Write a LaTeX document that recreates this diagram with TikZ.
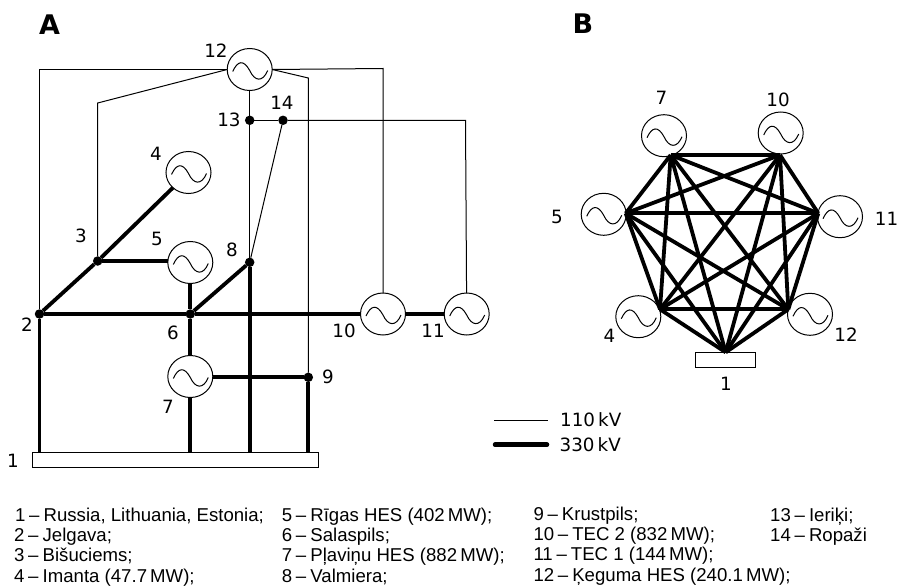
\documentclass[tikz,border=0pt]{standalone}
\usepackage{fontspec}
\setmainfont{Liberation Sans}
\newfontfamily\numfont{DejaVu Sans}
\usetikzlibrary{shapes.geometric}
\newcommand{\dashsep}{\hspace{.2em}–\hspace{.22em}}
\begin{document}
\begin{tikzpicture}[x=1pt,y=-1pt,
gen/.style={ellipse, draw, line width=1pt, minimum width=45pt, minimum height=42pt, inner sep=0pt, outer sep=0pt,
  path picture={\draw[line width=1pt, shift={(path picture bounding box.center)}] (-17,2) .. controls (-12,-9) and (-6,-10) .. (0,1) .. controls (5,12) and (13,13) .. (18,1);}},
dot/.style={circle, fill, minimum size=9.5pt, inner sep=0pt, outer sep=0pt},
busbar/.style={rectangle, draw, line width=1pt, inner sep=0pt, outer sep=0pt},
num/.style={font=\numfont\fontsize{18.3}{18.3}\selectfont, inner sep=0pt},
head/.style={font=\numfont\bfseries\fontsize{27}{27}\selectfont, inner sep=0pt},
key/.style={font=\fontsize{18.6}{18.6}\selectfont, anchor=base west, inner sep=0pt},
lowline/.style={line width=1pt},
highline/.style={line width=3.8pt}]
\useasboundingbox (0,0) rectangle (897,586);
\node[head] (hA) at (49.5,25){A};
\node[head] (hB) at (583,24){B};
\node[busbar, minimum width=286pt, minimum height=14.5pt] (aid1) at (175.3,460){};
\node[dot] (aid2) at (39.5,314){};
\node[dot] (aid3) at (97.7,261){};
\node[gen] (aid4) at (188.5,172.5){};
\node[gen] (aid5) at (190.3,262.5){};
\node[dot] (aid6) at (190.3,314){};
\node[gen] (aid7) at (190.3,376.5){};
\node[dot] (aid8) at (249.7,262.3){};
\node[dot] (aid9) at (308.3,377.3){};
\node[gen] (aid10) at (383,314){};
\node[gen] (aid11) at (466.7,314){};
\node[gen] (aid12) at (249.7,69.5){};
\node[dot] (aid13) at (249.7,120.3){};
\node[dot] (aid14) at (283,120.3){};
\coordinate (acor1) at (39.5,69.5);
\coordinate (acor2) at (97.7,103);
\coordinate (acor3) at (308.3,78);
\coordinate (acor4) at (383,68.5);
\coordinate (acor5) at (465.5,120.3);
\draw[lowline](aid12.west) -- (acor1) -- (aid2);
\draw[lowline](aid12.west) -- (acor2) -- (aid3);
\draw[lowline](aid12.east) -- (acor3) -- (aid9);
\draw[lowline](aid12.east) -- (acor4) -- (aid10);
\draw[lowline](aid12) -- (aid13);
\draw[lowline](aid13) -- (aid8);
\draw[lowline](aid13) -- (aid14);
\draw[lowline](aid14) -- (aid8);
\draw[lowline](aid14) -- (acor5) -- (aid11);
\draw[highline](aid2) -- (aid2 |- aid1.north);
\draw[highline](aid2) -- (aid3);
\draw[highline](aid3) -- (aid4);
\draw[highline](aid3) -- (aid3 -| aid5.west);
\draw[highline](aid5) -- (aid6);
\draw[highline](aid2) -- (aid6);
\draw[highline](aid6) -- (aid8);
\draw[highline](aid6) -- (aid10);
\draw[highline](aid10) -- (aid11);
\draw[highline](aid6) -- (aid7);
\draw[highline](aid7) -- (aid7 |- aid1.north);
\draw[highline](aid9 -| aid7.east) -- (aid9);
\draw[highline](aid8) -- (aid8 |- aid1.north);
\draw[highline](aid9) -- (aid9 |- aid1.north);
\node[num] (alab1) at (13,461){1};
\node[num] (alab2) at (27,325){2};
\node[num] (alab3) at (81,236){3};
\node[num] (alab4) at (156,154){4};
\node[num] (alab5) at (157,239){5};
\node[num] (alab6) at (173,333){6};
\node[num] (alab7) at (168,407){7};
\node[num] (alab8) at (232,250){8};
\node[num] (alab9) at (328,376.5){9};
\node[num] (alab10) at (344,331){10};
\node[num] (alab11) at (433,331){11};
\node[num] (alab12) at (216,51){12};
\node[num] (alab13) at (229,119.5){13};
\node[num] (alab14) at (282,103){14};
\node[busbar, minimum width=60pt, minimum height=15pt] (bid1) at (725.7,359.8){};
\node[gen] (bid4) at (638.3,316.7){};
\node[gen] (bid5) at (603.7,214.3){};
\node[gen] (bid7) at (664,135.7){};
\node[gen] (bid10) at (780.7,133){};
\node[gen] (bid11) at (840,216.7){};
\node[gen] (bid12) at (810,314.3){};
\coordinate (bp1) at (725.7,352.3);
\coordinate (bp4) at (660,309.3);
\coordinate (bp5) at (625.7,213.3);
\coordinate (bp7) at (670.7,155);
\coordinate (bp10) at (780,155);
\coordinate (bp11) at (818.3,213.3);
\coordinate (bp12) at (788.3,309.3);
\draw[highline](bp7) -- (bp10);
\draw[highline](bp7) -- (bp5);
\draw[highline](bp7) -- (bp11);
\draw[highline](bp7) -- (bp4);
\draw[highline](bp7) -- (bp12);
\draw[highline](bp7) -- (bp1);
\draw[highline](bp10) -- (bp5);
\draw[highline](bp10) -- (bp11);
\draw[highline](bp10) -- (bp4);
\draw[highline](bp10) -- (bp12);
\draw[highline](bp10) -- (bp1);
\draw[highline](bp5) -- (bp11);
\draw[highline](bp5) -- (bp4);
\draw[highline](bp5) -- (bp12);
\draw[highline](bp5) -- (bp1);
\draw[highline](bp11) -- (bp4);
\draw[highline](bp11) -- (bp12);
\draw[highline](bp11) -- (bp1);
\draw[highline](bp4) -- (bp12);
\draw[highline](bp4) -- (bp1);
\draw[highline](bp12) -- (bp1);
\node[num] (blab1) at (726,384){1};
\node[num] (blab4) at (609.5,336){4};
\node[num] (blab5) at (557,217){5};
\node[num] (blab7) at (661.5,98){7};
\node[num] (blab10) at (778,100){10};
\node[num] (blab11) at (886.5,219){11};
\node[num] (blab12) at (846,335){12};
\coordinate (lowa) at (494,420.7);
\coordinate (lowb) at (548,420.7);
\coordinate (higha) at (495,444.7);
\coordinate (highb) at (547,444.7);
\draw[lowline](lowa) -- (lowb);
\draw[line width=4.5pt, line cap=round](higha) -- (highb);
\node[num, anchor=west] (lowlab) at (560,420){110\,kV};
\node[num, anchor=west] (highlab) at (559.5,445){330\,kV};
\node[key] (k1) at (15,521){1\dashsep Russia, Lithuania, Estonia;};
\node[key] (k2) at (14,541.7){2\dashsep Jelgava;};
\node[key] (k3) at (14,561.7){3\dashsep Bišuciems;};
\node[key] (k4) at (14,582){4\dashsep Imanta (47.7\,MW);};
\node[key] (k5) at (281.7,521){5\dashsep Rīgas HES (402\,MW);};
\node[key] (k6) at (281.7,541.7){6\dashsep Salaspils;};
\node[key] (k7) at (281.7,561.7){7\dashsep Pļaviņu HES (882\,MW);};
\node[key] (k8) at (281.7,582){8\dashsep Valmiera;};
\node[key] (k9) at (533.3,520){9\dashsep Krustpils;};
\node[key] (k10) at (533.3,540.7){10\dashsep TEC 2 (832\,MW);};
\node[key] (k11) at (533.3,560.7){11\dashsep TEC 1 (144\,MW);};
\node[key] (k12) at (533.3,581.7){12\dashsep Ķeguma HES (240.1\,MW);};
\node[key] (k13) at (770,521.7){13\dashsep Ieriķi;};
\node[key] (k14) at (770,541.7){14\dashsep Ropaži};
\end{tikzpicture}
\end{document}
